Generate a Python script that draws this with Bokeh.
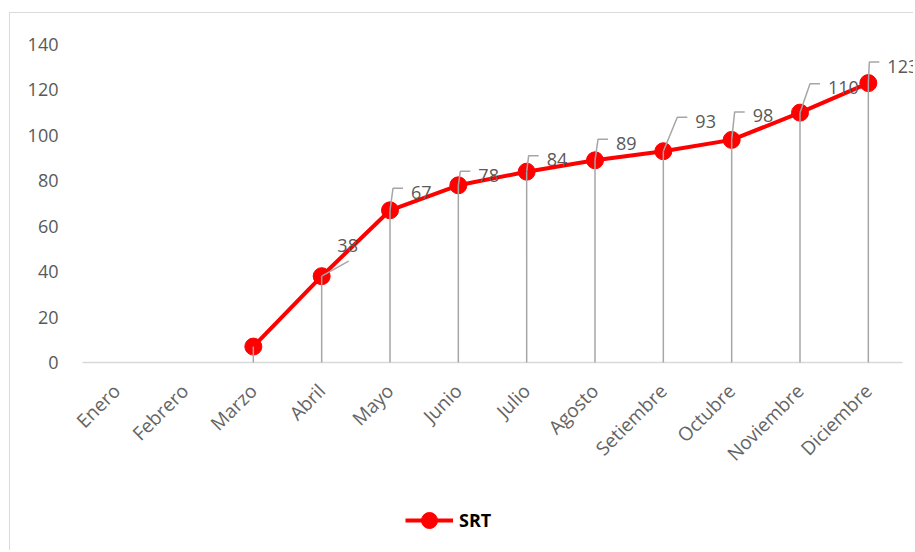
import math
from bokeh.plotting import figure
from bokeh.models import (ColumnDataSource, FixedTicker, Legend, LegendItem, Range1d)
from bokeh.embed import file_html
from bokeh.resources import INLINE
from bokeh.core.properties import value

# ---- data ----
months = ["Enero", "Febrero", "Marzo", "Abril", "Mayo", "Junio", "Julio",
          "Agosto", "Setiembre", "Octubre", "Noviembre", "Diciembre"]
srt = [None, None, 7, 38, 67, 78, 84, 89, 93, 98, 110, 123]
srt_labels = ["", "", "", "38", "67", "78", "84", "89", "93", "98", "110", "123"]
y_ticks = [0, 20, 40, 60, 80, 100, 120, 140]

# ---- style: leader-line geometry in screen pixels ----
lead_tilt = [0, 0, 0, 27, 3, 2, 2, 3, 14, 3, 10, 1]
lead_rise = [0, 0, 0, 15, 22, 14, 16, 21, 34, 28, 29, 21]
lead_flat = [0, 0, 0, 0, 10, 10, 10, 10, 10, 10, 10, 10]

W, H = 904, 538
BL, BT = 60, 31          # canvas px reserved left / top of the drawing frame
AXIS_LEFT = 72           # px from canvas left to the first category slot
RIGHT_PAD = 12           # px between the last category slot and the canvas edge
AXIS_GAP = 189           # px between the value-0 line and the bottom of the canvas
YMAX = 140
n = len(months)
px_x = (W - AXIS_LEFT - RIGHT_PAD) / n
plot_h = H - BT - AXIS_GAP
px_y = plot_h / YMAX
YMIN = -AXIS_GAP / px_y
XMIN = -0.5 - (AXIS_LEFT - BL) / px_x
XMAX = -0.5 + (W - AXIS_LEFT) / px_x

GRAY_TXT = "#595959"
FONT = "Open Sans"

p = figure(width=W, height=H, output_backend="svg", toolbar_location=None,
           x_range=Range1d(XMIN, XMAX), y_range=Range1d(YMIN, YMAX),
           min_border_left=BL, min_border_right=0, min_border_top=BT,
           min_border_bottom=0)
p.styles = {"border-left": "1px solid #d9d9d9", "border-top": "1px solid #d9d9d9",
            "margin-top": "12px", "margin-left": "9px"}
p.outline_line_color = None
p.xgrid.visible = False
p.ygrid.visible = False
p.xaxis.visible = False

idx = list(range(n))
vals = [float("nan") if v is None else v for v in srt]

# category axis baseline
p.segment(x0=[-0.5], y0=[0], x1=[n - 0.5], y1=[0], line_color="#d9d9d9", line_width=1.5)

line_src = ColumnDataSource(dict(x=idx, y=vals))
pts = [i for i in idx if srt[i] is not None]
pt_src = ColumnDataSource(dict(x=pts, y=[srt[i] for i in pts]))

r_line = p.line("x", "y", source=line_src, line_color="#ff0000", line_width=4)
r_pts = p.scatter("x", "y", source=pt_src, size=17, marker="circle",
                  fill_color="#ff0000", line_color="#ff0000")

# drop lines
p.segment(x0=pts, y0=[0] * len(pts), x1=pts, y1=[srt[i] for i in pts],
          line_color="#a6a6a6", line_width=1.5)

# leader lines and labels
xs, ys = [], []
tx, ty, txt, xo, yo, al = [], [], [], [], [], []
for i in idx:
    if not srt_labels[i]:
        continue
    v = srt[i]
    x1 = i + lead_tilt[i] / px_x
    y1 = v + lead_rise[i] / px_y
    x2 = x1 + lead_flat[i] / px_x
    xs.append([i, x1, x2])
    ys.append([v, y1, y1])
    tx.append(i)
    ty.append(v)
    txt.append(srt_labels[i])
    if lead_flat[i] == 0:
        xo.append(lead_tilt[i] - 1)
        yo.append(-lead_rise[i] - 16)
        al.append("center")
    else:
        xo.append(lead_tilt[i] + lead_flat[i] + 8)
        yo.append(-lead_rise[i] + 4)
        al.append("left")

p.multi_line(xs=xs, ys=ys, line_color="#a6a6a6", line_width=1.5)
lab_src = ColumnDataSource(dict(x=tx, y=ty, t=txt, xo=xo, yo=yo, al=al))
p.text("x", "y", text="t", source=lab_src, x_offset="xo", y_offset="yo",
       text_align="al", text_baseline="middle", text_color=GRAY_TXT,
       text_font=value(FONT), text_font_size="18px")

# category labels (rotated 45 degrees, anchored under each category)
cat_src = ColumnDataSource(dict(x=idx, y=[0] * n, t=months))
p.text("x", "y", text="t", source=cat_src, angle=math.pi / 4,
       x_offset=0, y_offset=25, text_align="right", text_baseline="middle",
       text_color="#646464", text_font=value(FONT), text_font_size="19px")

# value axis
p.yaxis.ticker = FixedTicker(ticks=y_ticks)
p.yaxis.axis_line_color = None
p.yaxis.major_tick_line_color = None
p.yaxis.minor_tick_line_color = None
p.yaxis.major_tick_out = 0
p.yaxis.major_tick_in = 0
p.yaxis.major_label_standoff = 24 - (AXIS_LEFT - BL)
p.yaxis.major_label_text_font = FONT
p.yaxis.major_label_text_font_size = "18px"
p.yaxis.major_label_text_color = GRAY_TXT

legend = Legend(items=[LegendItem(label="SRT", renderers=[r_line, r_pts])],
                location=(323 + AXIS_LEFT - BL, 11), orientation="horizontal",
                glyph_width=48, glyph_height=40, padding=0, margin=0,
                border_line_color=None, background_fill_alpha=0,
                label_text_font=FONT, label_text_font_style="bold",
                label_text_font_size="18px", label_text_color="black",
                label_standoff=6)
p.add_layout(legend, "center")

open("out.html", "w").write(file_html(p, INLINE))
